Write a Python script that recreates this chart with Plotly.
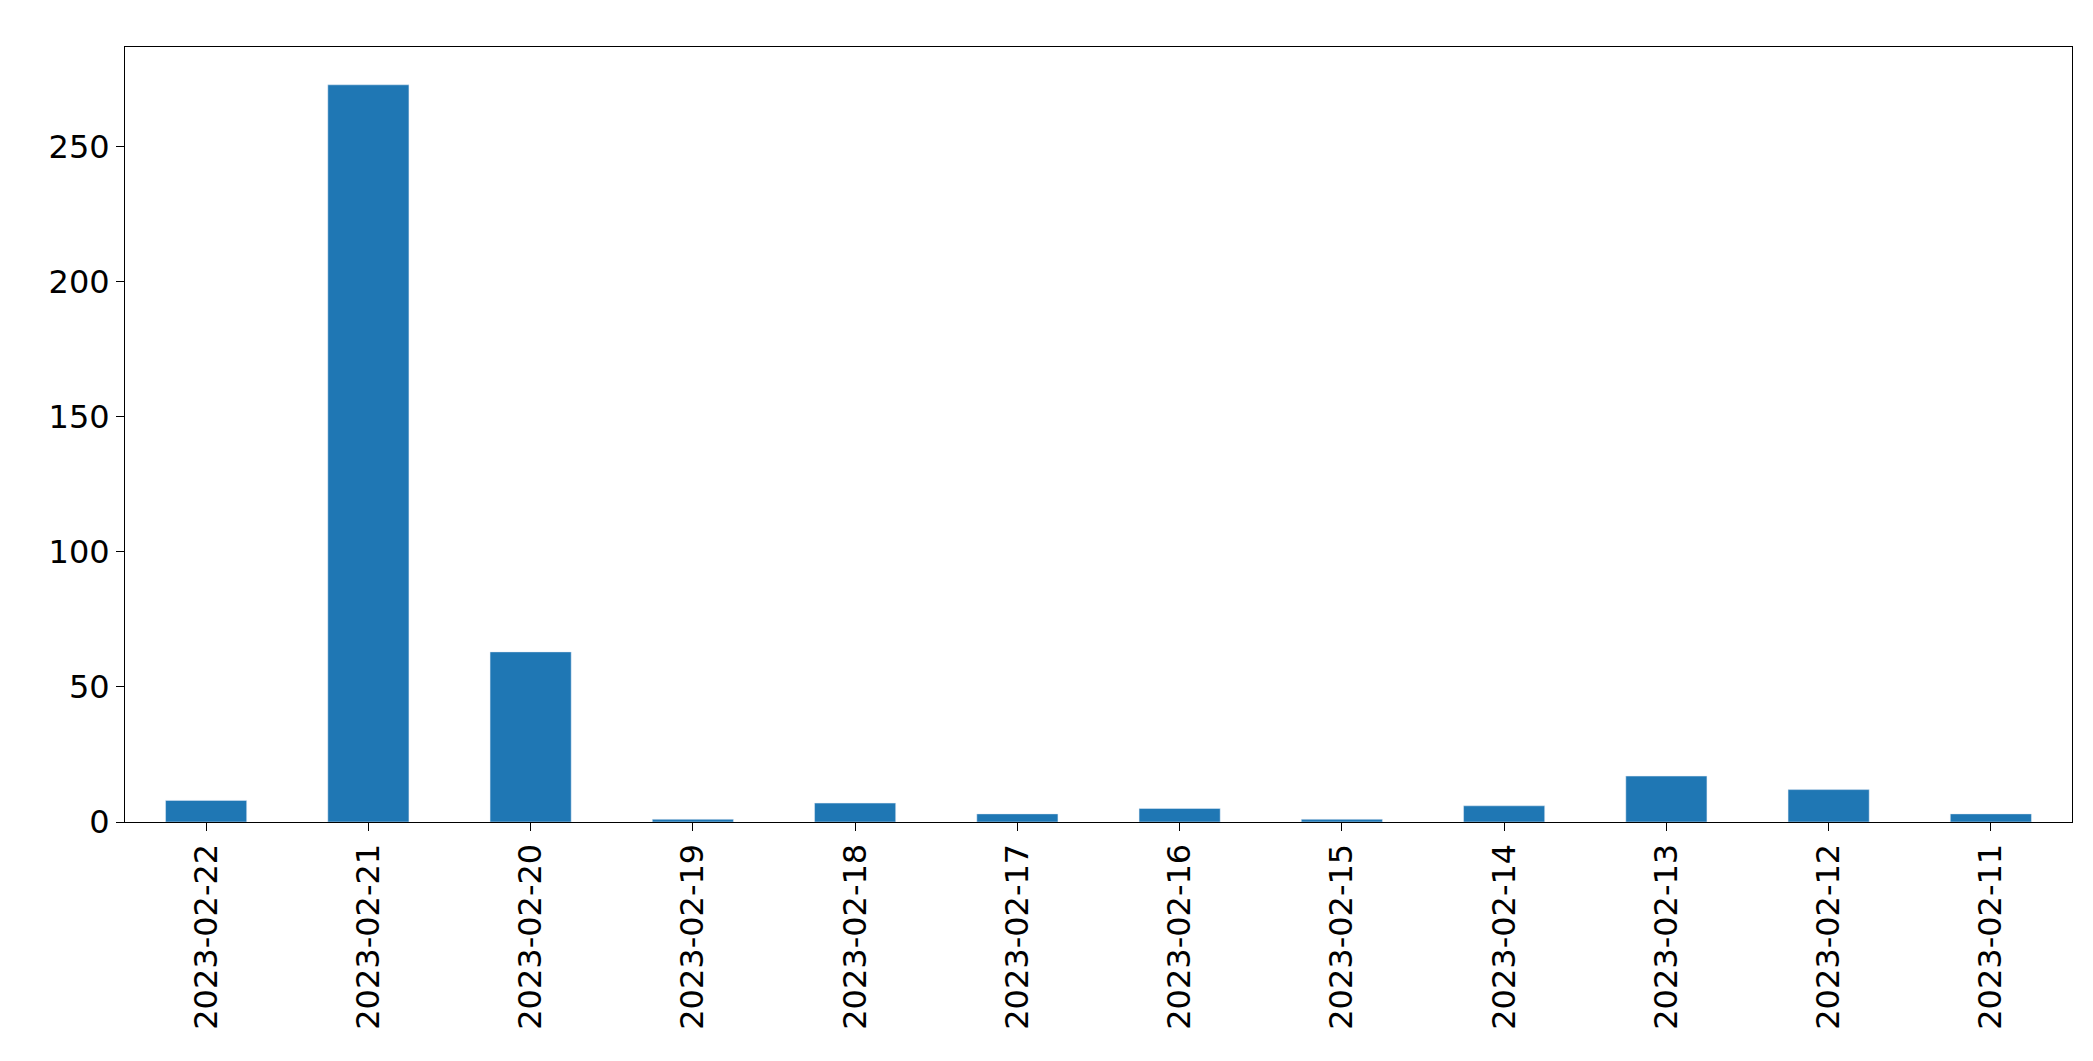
import plotly.graph_objects as go

dates = ["2023-02-22","2023-02-21","2023-02-20","2023-02-19","2023-02-18","2023-02-17",
         "2023-02-16","2023-02-15","2023-02-14","2023-02-13","2023-02-12","2023-02-11"]
counts = [8, 273, 63, 1, 7, 3, 5, 1, 6, 17, 12, 3]

fig = go.Figure(go.Bar(x=dates, y=counts, marker_color="#1f77b4", width=0.5))
fig.update_layout(
    width=2093, height=1061, plot_bgcolor="white", paper_bgcolor="white",
    margin=dict(l=117, r=29, t=39, b=247),
    font=dict(family="DejaVu Sans", size=32, color="black"),
    showlegend=False,
)
fig.update_xaxes(type="category", tickangle=-90, showline=True, linecolor="black", mirror=True,
                 ticks="outside", ticklen=8, tickcolor="black", range=[-0.5, 11.5])
fig.update_yaxes(range=[0, 287], tickvals=[0,50,100,150,200,250], showgrid=False, zeroline=False,
                 showline=True, linecolor="black", mirror=True, ticks="outside", ticklen=8, tickcolor="black")
fig.write_html("out.html")
